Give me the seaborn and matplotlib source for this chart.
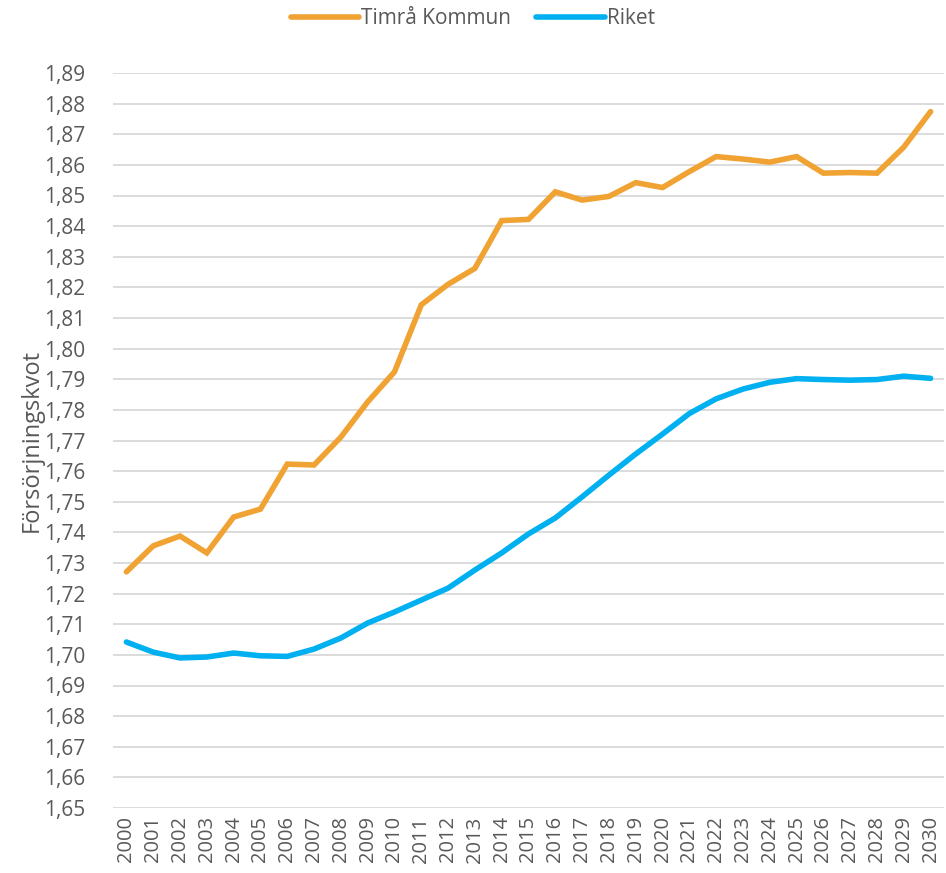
import matplotlib
matplotlib.use("Agg")
import matplotlib.pyplot as plt
import seaborn as sns
import pandas as pd

# data
years = list(range(2000, 2031))
timra = [1.7271, 1.7356, 1.7388, 1.7333, 1.7450, 1.7476, 1.7623, 1.7620, 1.7711, 1.7826,
         1.7924, 1.8143, 1.8210, 1.8262, 1.8418, 1.8422, 1.8512, 1.8485, 1.8497, 1.8542,
         1.8526, 1.8578, 1.8627, 1.8619, 1.8609, 1.8627, 1.8573, 1.8575, 1.8573, 1.8658, 1.8774]
riket = [1.7042, 1.7009, 1.6990, 1.6993, 1.7006, 1.6997, 1.6995, 1.7019, 1.7055, 1.7104,
         1.7140, 1.7179, 1.7218, 1.7277, 1.7333, 1.7395, 1.7447, 1.7516, 1.7587, 1.7656,
         1.7721, 1.7788, 1.7836, 1.7868, 1.7890, 1.7902, 1.7899, 1.7897, 1.7899, 1.7910, 1.7903]
series_names = ['Timrå Kommun', 'Riket']
y_ticks = [round(1.65 + 0.01 * i, 2) for i in range(25)]

df = pd.DataFrame({
    'År': years * 2,
    'Värde': timra + riket,
    'Serie': [series_names[0]] * len(years) + [series_names[1]] * len(years),
})

sns.set_style('white')
plt.rcParams['font.family'] = ['Open Sans', 'DejaVu Sans']
grey = '#595959'

fig = plt.figure(figsize=(9.46, 8.73), dpi=100)
ax = fig.add_axes([113 / 946, 1 - 808 / 873, 831 / 946, (808 - 73) / 873])

for y in y_ticks:
    ax.axhline(y, color='#d9d9d9', lw=1.3, zorder=0)

sns.lineplot(data=df, x='År', y='Värde', hue='Serie',
             palette=['#F0A232', '#00B0F0'], linewidth=4, ax=ax,
             solid_capstyle='round', solid_joinstyle='miter', clip_on=False)

ax.set_xlim(1999.5, 2030.5)
ax.set_ylim(1.65, 1.89)
ax.set_xticks(years)
ax.set_xticklabels([str(y) for y in years], rotation=90, fontsize=14.5, color=grey)
ax.set_yticks(y_ticks)
ax.set_yticklabels([f'{v:.2f}'.replace('.', ',') for v in y_ticks], fontsize=15, color=grey)
ax.tick_params(axis='y', length=0, pad=20)
ax.tick_params(axis='x', length=0, pad=6)
ax.set_xlabel('')
ax.set_ylabel('Försörjningskvot', fontsize=17, color=grey, labelpad=0)
for s in ax.spines.values():
    s.set_visible(False)

handles, labels = ax.get_legend_handles_labels()
ax.legend(handles, labels, loc='center', bbox_to_anchor=(0.5, 1 - 19 / 873),
          bbox_transform=fig.transFigure, ncol=2, frameon=False,
          fontsize=15, labelcolor=grey, handlelength=3.3, handletextpad=0.1,
          columnspacing=1.2)

fig.savefig('out.png', dpi=100)
